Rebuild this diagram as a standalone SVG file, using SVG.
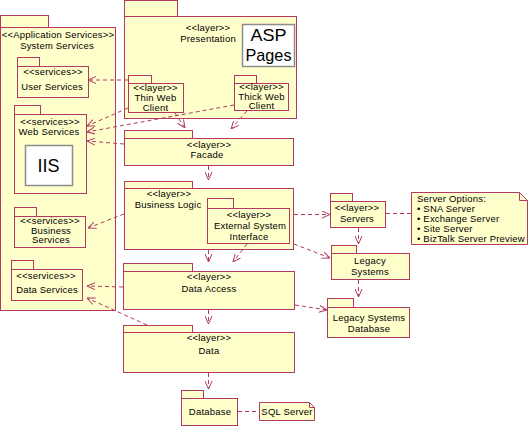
<svg xmlns="http://www.w3.org/2000/svg" width="528" height="426" viewBox="0 0 528 426">
<defs>
<marker id="arr" viewBox="0 0 8 8" refX="8" refY="4" markerWidth="8" markerHeight="8" markerUnits="userSpaceOnUse" orient="auto">
<path d="M0,0.5 L8,4 L0,7.5" fill="none" stroke="#b03a62" stroke-width="1" stroke-dasharray="none"/>
</marker>
<style>
.pk{fill:#ffffcc;stroke:#b03a62;stroke-width:1}
.bx{fill:#ffffff;stroke:#8c8c8c;stroke-width:1.5}
.t{font-family:"Liberation Sans",Arial,sans-serif;font-size:9.5px;letter-spacing:0.2px;fill:#000;text-anchor:middle}
.tl{font-family:"Liberation Sans",Arial,sans-serif;font-size:9.5px;letter-spacing:0.2px;fill:#000}
.big{font-family:"Liberation Sans",Arial,sans-serif;font-size:19px;fill:#000;text-anchor:middle}
.big2{font-family:"Liberation Sans",Arial,sans-serif;font-size:17px;fill:#000;text-anchor:middle}
.c{fill:none;stroke:#b03a62;stroke-width:1;stroke-dasharray:4,3}
.ca{fill:none;stroke:#b03a62;stroke-width:1;stroke-dasharray:4,3;marker-end:url(#arr)}
</style>
</defs>

<g id="app-services">
<rect class="pk" x="0.5" y="15.5" width="48" height="12"/>
<rect class="pk" x="0.5" y="27.5" width="115" height="283"/>
<text class="t" x="58" y="38">&lt;&lt;Application Services&gt;&gt;</text>
<text class="t" x="57" y="49">System Services</text>
</g>
<g id="user-services">
<rect class="pk" x="17.5" y="57.5" width="22" height="9"/>
<rect class="pk" x="17.5" y="66.5" width="71" height="31"/>
<text class="t" x="53" y="75">&lt;&lt;services&gt;&gt;</text>
<text class="t" x="52" y="90">User Services</text>
</g>
<g id="web-services">
<rect class="pk" x="14.5" y="105.5" width="26" height="9"/>
<rect class="pk" x="14.5" y="114.5" width="72" height="79"/>
<text class="t" x="50" y="124.5">&lt;&lt;services&gt;&gt;</text>
<text class="t" x="49" y="135">Web Services</text>
<rect class="bx" x="25.5" y="145.5" width="47" height="40"/>
<text class="big" x="48.5" y="171.5" textLength="22" lengthAdjust="spacingAndGlyphs">IIS</text>
</g>
<g id="business-services">
<rect class="pk" x="14.5" y="207.5" width="22" height="9"/>
<rect class="pk" x="14.5" y="216.5" width="71" height="31"/>
<text class="t" x="50" y="224">&lt;&lt;services&gt;&gt;</text>
<text class="t" x="51" y="233.5">Business</text>
<text class="t" x="51" y="243">Services</text>
</g>
<g id="data-services">
<rect class="pk" x="11.5" y="260.5" width="22" height="9"/>
<rect class="pk" x="11.5" y="269.5" width="71" height="31"/>
<text class="t" x="46" y="279">&lt;&lt;services&gt;&gt;</text>
<text class="t" x="47" y="293">Data Services</text>
</g>

<g id="presentation">
<rect class="pk" x="124.5" y="0.5" width="53" height="16"/>
<rect class="pk" x="124.5" y="16.5" width="172" height="102"/>
<text class="t" x="208" y="31">&lt;&lt;layer&gt;&gt;</text>
<text class="t" x="208" y="42">Presentation</text>
<rect class="bx" x="242.5" y="24.5" width="52" height="42"/>
<text class="big2" x="268.5" y="41" textLength="36" lengthAdjust="spacingAndGlyphs">ASP</text>
<text class="big2" x="268.5" y="61" textLength="46" lengthAdjust="spacingAndGlyphs">Pages</text>
</g>
<g id="thin-web-client">
<rect class="pk" x="128.5" y="75.5" width="23" height="8"/>
<rect class="pk" x="128.5" y="83.5" width="55" height="29"/>
<text class="t" x="155.5" y="90.5">&lt;&lt;layer&gt;&gt;</text>
<text class="t" x="155.5" y="101">Thin Web</text>
<text class="t" x="155.5" y="111">Client</text>
</g>
<g id="thick-web-client">
<rect class="pk" x="234.5" y="75.5" width="22" height="8"/>
<rect class="pk" x="234.5" y="83.5" width="54" height="27"/>
<text class="t" x="261.5" y="90">&lt;&lt;layer&gt;&gt;</text>
<text class="t" x="261.5" y="99.5">Thick Web</text>
<text class="t" x="261.5" y="109">Client</text>
</g>
<g id="facade">
<rect class="pk" x="124.5" y="130.5" width="68" height="8"/>
<rect class="pk" x="124.5" y="138.5" width="169" height="27"/>
<text class="t" x="209" y="148">&lt;&lt;layer&gt;&gt;</text>
<text class="t" x="207" y="158">Facade</text>
</g>
<g id="business-logic">
<rect class="pk" x="124.5" y="181.5" width="68" height="7"/>
<rect class="pk" x="124.5" y="188.5" width="169" height="61"/>
<text class="t" x="169" y="197">&lt;&lt;layer&gt;&gt;</text>
<text class="t" x="168" y="208">Business Logic</text>
</g>
<g id="external-system-interface">
<rect class="pk" x="207.5" y="198.5" width="26" height="10"/>
<rect class="pk" x="207.5" y="208.5" width="82" height="35"/>
<text class="t" x="249" y="218">&lt;&lt;layer&gt;&gt;</text>
<text class="t" x="250" y="229">External System</text>
<text class="t" x="249" y="240">Interface</text>
</g>
<g id="data-access">
<rect class="pk" x="123.5" y="263.5" width="69" height="8"/>
<rect class="pk" x="123.5" y="271.5" width="171" height="38"/>
<text class="t" x="209" y="280">&lt;&lt;layer&gt;&gt;</text>
<text class="t" x="209" y="292">Data Access</text>
</g>
<g id="data">
<rect class="pk" x="123.5" y="325.5" width="69" height="7"/>
<rect class="pk" x="123.5" y="332.5" width="171" height="40"/>
<text class="t" x="209" y="341">&lt;&lt;layer&gt;&gt;</text>
<text class="t" x="209" y="354">Data</text>
</g>
<g id="database">
<rect class="pk" x="181.5" y="390.5" width="22" height="8"/>
<rect class="pk" x="181.5" y="398.5" width="56" height="27"/>
<text class="t" x="210" y="415">Database</text>
</g>
<g id="sql-server">
<path class="pk" d="M259.5,402.5 H309.5 L314.5,407.5 V420.5 H259.5 Z"/>
<path d="M309.5,402.5 V407.5 H314.5" fill="none" stroke="#b03a62" stroke-width="1"/>
<text class="t" x="287" y="415">SQL Server</text>
</g>
<g id="servers">
<rect class="pk" x="330.5" y="193.5" width="22" height="8"/>
<rect class="pk" x="330.5" y="201.5" width="55" height="26"/>
<text class="t" x="357" y="211">&lt;&lt;layer&gt;&gt;</text>
<text class="t" x="357" y="222">Servers</text>
</g>
<g id="server-options">
<path class="pk" d="M411.5,192.5 H519.5 L527.5,200.5 V244.5 H411.5 Z"/>
<path d="M519.5,192.5 V200.5 H527.5" fill="none" stroke="#b03a62" stroke-width="1"/>
<text class="tl" x="417" y="202">Server Options:</text>
<text class="tl" x="417" y="212">• SNA Server</text>
<text class="tl" x="417" y="222">• Exchange Server</text>
<text class="tl" x="417" y="232">• Site Server</text>
<text class="tl" x="417" y="241.5">• BizTalk Server Preview</text>
</g>
<g id="legacy-systems">
<rect class="pk" x="331.5" y="245.5" width="25" height="8"/>
<rect class="pk" x="331.5" y="253.5" width="78" height="26"/>
<text class="t" x="370" y="264">Legacy</text>
<text class="t" x="370" y="275">Systems</text>
</g>
<g id="legacy-systems-database">
<rect class="pk" x="327.5" y="298.5" width="26" height="9"/>
<rect class="pk" x="327.5" y="307.5" width="82" height="30"/>
<text class="t" x="369" y="321">Legacy Systems</text>
<text class="t" x="369" y="332">Database</text>
</g>

<g id="connectors">
<line class="ca" x1="128" y1="80" x2="88" y2="80"/>
<line class="ca" x1="128" y1="108" x2="87" y2="126"/>
<line class="ca" x1="234" y1="105" x2="87" y2="132"/>
<line class="ca" x1="124" y1="144" x2="87" y2="141"/>
<line class="ca" x1="175" y1="113" x2="185" y2="128"/>
<line class="ca" x1="247" y1="111" x2="231" y2="129"/>
<line class="ca" x1="208.5" y1="166" x2="208.5" y2="180"/>
<line class="ca" x1="124" y1="214" x2="88" y2="228"/>
<line class="ca" x1="208.5" y1="250" x2="208.5" y2="262"/>
<line class="ca" x1="247" y1="244" x2="233" y2="262"/>
<line class="ca" x1="294" y1="214.5" x2="330" y2="214.5"/>
<line class="ca" x1="294" y1="244" x2="330" y2="258"/>
<line class="ca" x1="358.5" y1="228" x2="358.5" y2="244"/>
<line class="ca" x1="358.5" y1="280" x2="358.5" y2="297"/>
<line class="ca" x1="295" y1="305" x2="327" y2="310"/>
<line class="ca" x1="123" y1="287" x2="87" y2="286"/>
<line class="ca" x1="147" y1="325" x2="87" y2="298"/>
<line class="ca" x1="208.5" y1="310" x2="208.5" y2="324"/>
<line class="ca" x1="208.5" y1="373" x2="208.5" y2="389"/>
<line class="c" x1="386" y1="213.5" x2="411" y2="213.5"/>
<line class="c" x1="238" y1="411.5" x2="259" y2="411.5"/>
</g>
</svg>
